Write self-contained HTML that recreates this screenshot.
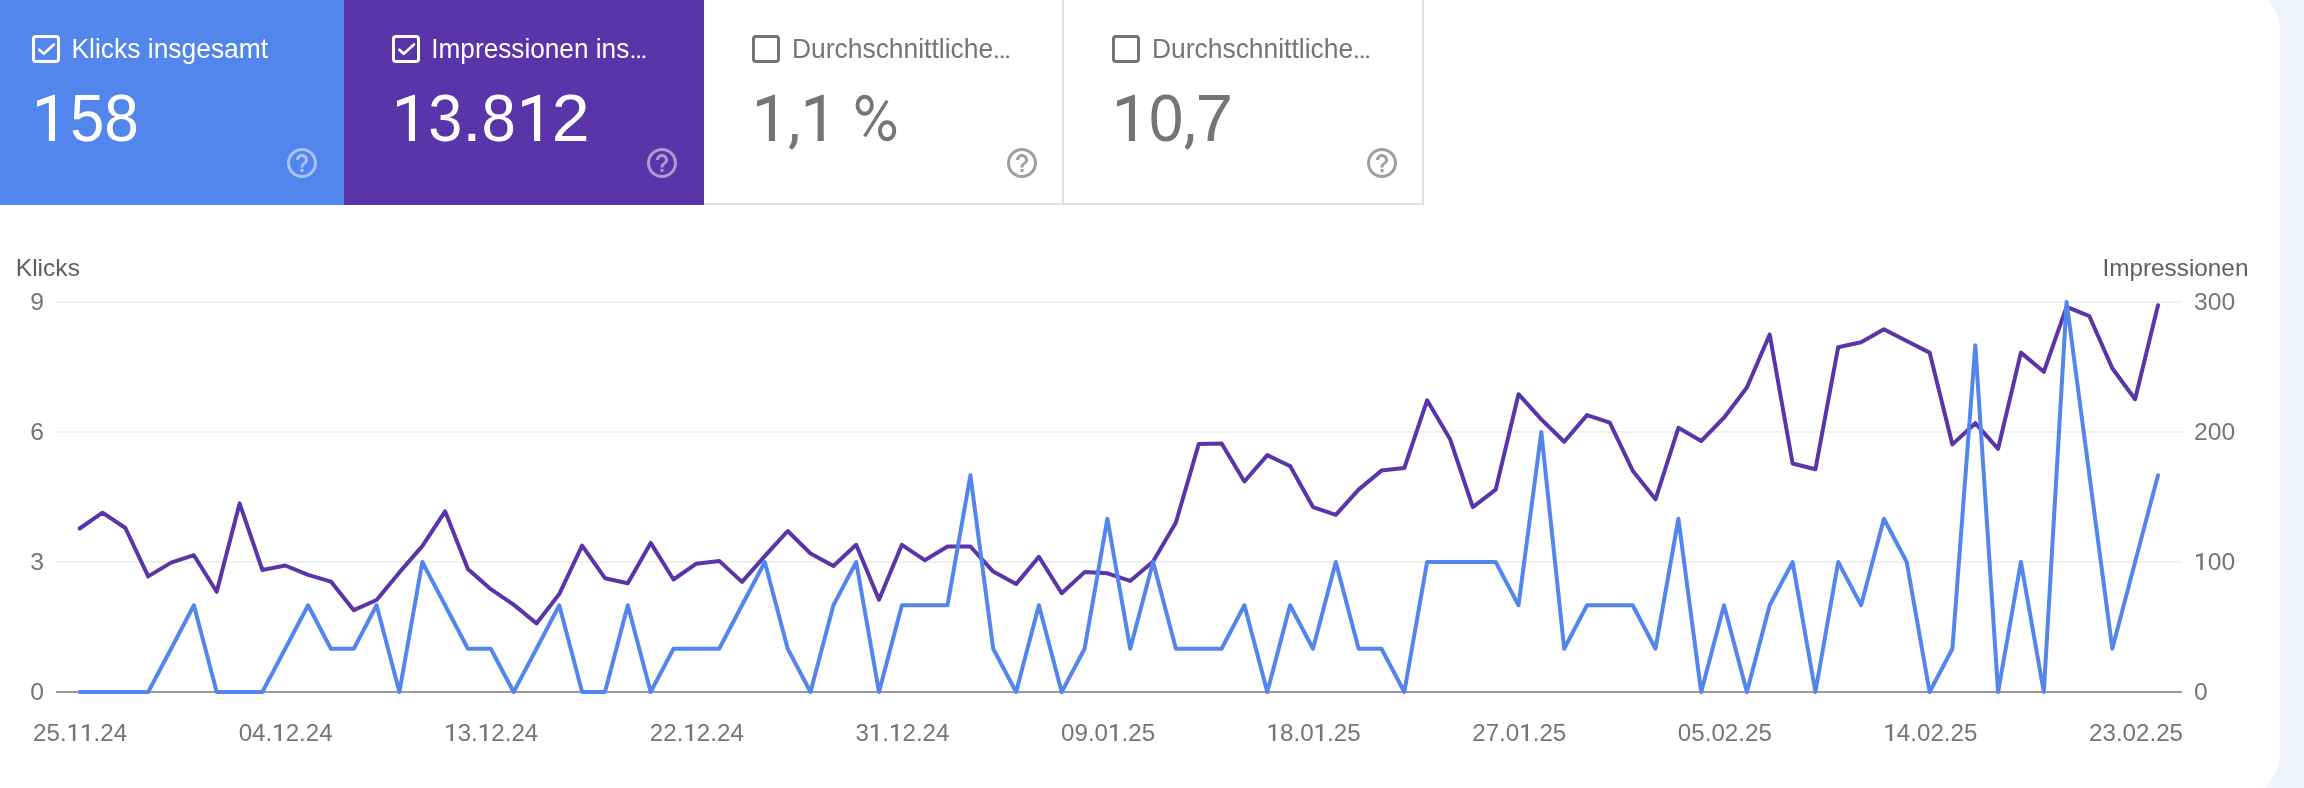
<!DOCTYPE html>
<html><head><meta charset="utf-8"><style>
html,body{margin:0;padding:0;}
body{width:2304px;height:788px;overflow:hidden;background:#f0f4f9;font-family:"Liberation Sans", sans-serif;}
svg{display:block;font-family:"Liberation Sans", sans-serif;will-change:transform;}
</style></head><body>
<svg width="2304" height="788" viewBox="0 0 2304 788">
<rect x="-16" y="-16" width="2296" height="816" rx="48" fill="#ffffff"/>
<rect x="-16" y="-20" width="360" height="225" fill="#5386ec"/>
<rect x="33.5" y="36.5" width="25" height="25" rx="2.5" fill="none" stroke="#ffffff" stroke-width="3"/><path d="M39.3,49.7 L43.769999999999996,53.7 L53.9,44.4" fill="none" stroke="#ffffff" stroke-width="2.7" stroke-linecap="round" stroke-linejoin="round"/>
<path transform="translate(284,145) scale(1.5)" d="M11 18h2v-2h-2v2zm1-16C6.48 2 2 6.48 2 12s4.48 10 10 10 10-4.48 10-10S17.52 2 12 2zm0 18c-4.41 0-8-3.59-8-8s3.59-8 8-8 8 3.59 8 8-3.59 8-8 8zm0-14c-2.21 0-4 1.79-4 4h2c0-1.1.9-2 2-2s2 .9 2 2c0 2-3 1.75-3 5h2c0-2.25 3-2.5 3-5 0-2.21-1.79-4-4-4z" fill="#ffffff" fill-opacity="0.5"/>
<rect x="344" y="-20" width="360" height="225" fill="#5935a9"/>
<rect x="393.5" y="36.5" width="25" height="25" rx="2.5" fill="none" stroke="#ffffff" stroke-width="3"/><path d="M399.3,49.7 L403.77,53.7 L413.9,44.4" fill="none" stroke="#ffffff" stroke-width="2.7" stroke-linecap="round" stroke-linejoin="round"/>
<path transform="translate(644,145) scale(1.5)" d="M11 18h2v-2h-2v2zm1-16C6.48 2 2 6.48 2 12s4.48 10 10 10 10-4.48 10-10S17.52 2 12 2zm0 18c-4.41 0-8-3.59-8-8s3.59-8 8-8 8 3.59 8 8-3.59 8-8 8zm0-14c-2.21 0-4 1.79-4 4h2c0-1.1.9-2 2-2s2 .9 2 2c0 2-3 1.75-3 5h2c0-2.25 3-2.5 3-5 0-2.21-1.79-4-4-4z" fill="#ffffff" fill-opacity="0.5"/>
<rect x="704" y="-20" width="360" height="225" fill="#ffffff"/>
<rect x="704" y="203" width="360" height="2" fill="#e0e0e0"/>
<rect x="1062" y="-20" width="2" height="225" fill="#e0e0e0"/>
<rect x="753.5" y="36.5" width="25" height="25" rx="2.5" fill="none" stroke="#757575" stroke-width="3"/>
<path transform="translate(1004,145) scale(1.5)" d="M11 18h2v-2h-2v2zm1-16C6.48 2 2 6.48 2 12s4.48 10 10 10 10-4.48 10-10S17.52 2 12 2zm0 18c-4.41 0-8-3.59-8-8s3.59-8 8-8 8 3.59 8 8-3.59 8-8 8zm0-14c-2.21 0-4 1.79-4 4h2c0-1.1.9-2 2-2s2 .9 2 2c0 2-3 1.75-3 5h2c0-2.25 3-2.5 3-5 0-2.21-1.79-4-4-4z" fill="#9e9e9e" fill-opacity="1"/>
<rect x="1064" y="-20" width="360" height="225" fill="#ffffff"/>
<rect x="1064" y="203" width="360" height="2" fill="#e0e0e0"/>
<rect x="1422" y="-20" width="2" height="225" fill="#e0e0e0"/>
<rect x="1113.5" y="36.5" width="25" height="25" rx="2.5" fill="none" stroke="#757575" stroke-width="3"/>
<path transform="translate(1364,145) scale(1.5)" d="M11 18h2v-2h-2v2zm1-16C6.48 2 2 6.48 2 12s4.48 10 10 10 10-4.48 10-10S17.52 2 12 2zm0 18c-4.41 0-8-3.59-8-8s3.59-8 8-8 8 3.59 8 8-3.59 8-8 8zm0-14c-2.21 0-4 1.79-4 4h2c0-1.1.9-2 2-2s2 .9 2 2c0 2-3 1.75-3 5h2c0-2.25 3-2.5 3-5 0-2.21-1.79-4-4-4z" fill="#9e9e9e" fill-opacity="1"/>
<text x="71.51" y="58" font-size="27.2" fill="#ffffff" textLength="196.60" lengthAdjust="spacingAndGlyphs">Klicks insgesamt</text>
<text x="431.26" y="58" font-size="27.2" fill="#ffffff" textLength="197.98" lengthAdjust="spacingAndGlyphs">Impressionen ins</text>
<circle cx="633" cy="56.7" r="1.5" fill="#ffffff"/><circle cx="638.6" cy="56.7" r="1.5" fill="#ffffff"/><circle cx="643.9" cy="56.7" r="1.5" fill="#ffffff"/>
<text x="791.91" y="58" font-size="27.2" fill="#757575" textLength="201.27" lengthAdjust="spacingAndGlyphs">Durchschnittliche</text>
<circle cx="996.4" cy="56.7" r="1.5" fill="#757575"/><circle cx="1002.1" cy="56.7" r="1.5" fill="#757575"/><circle cx="1007.6" cy="56.7" r="1.5" fill="#757575"/>
<text x="1151.91" y="58" font-size="27.2" fill="#757575" textLength="201.27" lengthAdjust="spacingAndGlyphs">Durchschnittliche</text>
<circle cx="1356.4" cy="56.7" r="1.5" fill="#757575"/><circle cx="1362.1" cy="56.7" r="1.5" fill="#757575"/><circle cx="1367.6" cy="56.7" r="1.5" fill="#757575"/>
<path d="M55.00,94.80 L55.00,141.10 L48.85,141.10 L48.85,102.45 L36.97,106.70 L36.97,100.80 L53.50,94.80 Z" fill="#ffffff"/><text x="70.16" y="141" font-size="66.8" fill="#ffffff" textLength="34.15" lengthAdjust="spacingAndGlyphs">5</text><text x="104.36" y="141" font-size="66.8" fill="#ffffff" textLength="34.58" lengthAdjust="spacingAndGlyphs">8</text>
<path d="M415.00,94.80 L415.00,141.10 L408.85,141.10 L408.85,102.45 L396.97,106.70 L396.97,100.80 L413.50,94.80 Z" fill="#ffffff"/><text x="428.37" y="141" font-size="66.8" fill="#ffffff" textLength="34.05" lengthAdjust="spacingAndGlyphs">3</text><text x="461.92" y="141" font-size="66.8" fill="#ffffff" textLength="19.67" lengthAdjust="spacingAndGlyphs">.</text><text x="481.38" y="141" font-size="66.8" fill="#ffffff" textLength="34.35" lengthAdjust="spacingAndGlyphs">8</text><path d="M540.15,94.80 L540.15,141.10 L534.00,141.10 L534.00,102.45 L522.12,106.70 L522.12,100.80 L538.65,94.80 Z" fill="#ffffff"/><text x="551.66" y="141" font-size="66.8" fill="#ffffff" textLength="37.88" lengthAdjust="spacingAndGlyphs">2</text>
<path d="M775.00,94.80 L775.00,141.10 L768.85,141.10 L768.85,102.45 L756.97,106.70 L756.97,100.80 L773.50,94.80 Z" fill="#757575"/><path transform="translate(0.00,0)" d="M792.1,134.1 L797.7,134.1 L797.6,139 Q797.2,145.5 791.9,149.8 L789,147.3 Q791.8,143.8 792.1,139 Z" fill="#757575"/><path d="M823.75,94.80 L823.75,141.10 L817.60,141.10 L817.60,102.45 L805.72,106.70 L805.72,100.80 L822.25,94.80 Z" fill="#757575"/>
<g fill="none" stroke="#757575"><ellipse cx="864.7" cy="105.3" rx="7.2" ry="8.5" stroke-width="3.9"/><ellipse cx="887.1" cy="130.8" rx="7.2" ry="8.5" stroke-width="3.9"/><line x1="887.2" y1="100.6" x2="864.6" y2="136.4" stroke-width="3.3"/></g>
<path d="M1135.00,94.80 L1135.00,141.10 L1128.85,141.10 L1128.85,102.45 L1116.97,106.70 L1116.97,100.80 L1133.50,94.80 Z" fill="#757575"/><text x="1148.88" y="141" font-size="66.8" fill="#757575" textLength="34.25" lengthAdjust="spacingAndGlyphs">0</text><path transform="translate(395.60,0)" d="M792.1,134.1 L797.7,134.1 L797.6,139 Q797.2,145.5 791.9,149.8 L789,147.3 Q791.8,143.8 792.1,139 Z" fill="#757575"/><text x="1195.52" y="141" font-size="66.8" fill="#757575" textLength="37.59" lengthAdjust="spacingAndGlyphs">7</text>
<rect x="56" y="301" width="2126" height="2" fill="#efefef"/>
<rect x="56" y="431" width="2126" height="2" fill="#efefef"/>
<rect x="56" y="561" width="2126" height="2" fill="#efefef"/>
<rect x="56" y="691" width="2126" height="2" fill="#9a9a9a"/>
<text x="15.78" y="276" font-size="24.5" fill="#5f5f5f" textLength="64.17" lengthAdjust="spacingAndGlyphs">Klicks</text>
<text x="2102.43" y="276" font-size="24.5" fill="#5f5f5f" textLength="146.01" lengthAdjust="spacingAndGlyphs">Impressionen</text>
<text x="44.1" y="310" font-size="24.7" fill="#757575" text-anchor="end">9</text>
<text x="44.1" y="440" font-size="24.7" fill="#757575" text-anchor="end">6</text>
<text x="44.1" y="570" font-size="24.7" fill="#757575" text-anchor="end">3</text>
<text x="44.1" y="700" font-size="24.7" fill="#757575" text-anchor="end">0</text>
<text x="2194.00" y="310" font-size="24.7" fill="#757575" textLength="41.21" lengthAdjust="spacingAndGlyphs" style="font-kerning:none">300</text>
<text x="2194.00" y="440" font-size="24.7" fill="#757575" textLength="41.21" lengthAdjust="spacingAndGlyphs" style="font-kerning:none">200</text>
<path d="M2202.75,552.90 L2202.75,570.00 L2200.25,570.00 L2200.25,555.70 L2196.00,557.30 L2196.00,555.10 L2202.20,552.90 Z" fill="#757575"/><text x="2207.74" y="570" font-size="24.7" fill="#757575" textLength="27.48" lengthAdjust="spacingAndGlyphs" style="font-kerning:none">00</text>
<text x="2194.00" y="700" font-size="24.7" fill="#757575" textLength="13.74" lengthAdjust="spacingAndGlyphs" style="font-kerning:none">0</text>
<text x="33.06" y="741" font-size="24.7" fill="#757575" textLength="33.58" lengthAdjust="spacingAndGlyphs" style="font-kerning:none">25.</text><path d="M75.40,723.90 L75.40,741.00 L72.90,741.00 L72.90,726.70 L68.65,728.30 L68.65,726.10 L74.85,723.90 Z" fill="#757575"/><path d="M88.83,723.90 L88.83,741.00 L86.33,741.00 L86.33,726.70 L82.08,728.30 L82.08,726.10 L88.28,723.90 Z" fill="#757575"/><text x="93.52" y="741" font-size="24.7" fill="#757575" textLength="33.58" lengthAdjust="spacingAndGlyphs" style="font-kerning:none">.24</text>
<text x="238.66" y="741" font-size="24.7" fill="#757575" textLength="33.58" lengthAdjust="spacingAndGlyphs" style="font-kerning:none">04.</text><path d="M280.99,723.90 L280.99,741.00 L278.49,741.00 L278.49,726.70 L274.24,728.30 L274.24,726.10 L280.44,723.90 Z" fill="#757575"/><text x="285.68" y="741" font-size="24.7" fill="#757575" textLength="47.02" lengthAdjust="spacingAndGlyphs" style="font-kerning:none">2.24</text>
<path d="M453.01,723.90 L453.01,741.00 L450.51,741.00 L450.51,726.70 L446.26,728.30 L446.26,726.10 L452.46,723.90 Z" fill="#757575"/><text x="457.69" y="741" font-size="24.7" fill="#757575" textLength="20.15" lengthAdjust="spacingAndGlyphs" style="font-kerning:none">3.</text><path d="M486.59,723.90 L486.59,741.00 L484.09,741.00 L484.09,726.70 L479.84,728.30 L479.84,726.10 L486.04,723.90 Z" fill="#757575"/><text x="491.27" y="741" font-size="24.7" fill="#757575" textLength="47.02" lengthAdjust="spacingAndGlyphs" style="font-kerning:none">2.24</text>
<text x="649.85" y="741" font-size="24.7" fill="#757575" textLength="33.58" lengthAdjust="spacingAndGlyphs" style="font-kerning:none">22.</text><path d="M692.18,723.90 L692.18,741.00 L689.68,741.00 L689.68,726.70 L685.43,728.30 L685.43,726.10 L691.63,723.90 Z" fill="#757575"/><text x="696.87" y="741" font-size="24.7" fill="#757575" textLength="47.02" lengthAdjust="spacingAndGlyphs" style="font-kerning:none">2.24</text>
<text x="855.45" y="741" font-size="24.7" fill="#757575" textLength="13.44" lengthAdjust="spacingAndGlyphs" style="font-kerning:none">3</text><path d="M877.63,723.90 L877.63,741.00 L875.13,741.00 L875.13,726.70 L870.88,728.30 L870.88,726.10 L877.08,723.90 Z" fill="#757575"/><text x="882.32" y="741" font-size="24.7" fill="#757575" textLength="6.71" lengthAdjust="spacingAndGlyphs" style="font-kerning:none">.</text><path d="M897.78,723.90 L897.78,741.00 L895.28,741.00 L895.28,726.70 L891.03,728.30 L891.03,726.10 L897.23,723.90 Z" fill="#757575"/><text x="902.47" y="741" font-size="24.7" fill="#757575" textLength="47.02" lengthAdjust="spacingAndGlyphs" style="font-kerning:none">2.24</text>
<text x="1061.04" y="741" font-size="24.7" fill="#757575" textLength="47.02" lengthAdjust="spacingAndGlyphs" style="font-kerning:none">09.0</text><path d="M1116.81,723.90 L1116.81,741.00 L1114.31,741.00 L1114.31,726.70 L1110.06,728.30 L1110.06,726.10 L1116.26,723.90 Z" fill="#757575"/><text x="1121.50" y="741" font-size="24.7" fill="#757575" textLength="33.58" lengthAdjust="spacingAndGlyphs" style="font-kerning:none">.25</text>
<path d="M1275.39,723.90 L1275.39,741.00 L1272.89,741.00 L1272.89,726.70 L1268.64,728.30 L1268.64,726.10 L1274.84,723.90 Z" fill="#757575"/><text x="1280.08" y="741" font-size="24.7" fill="#757575" textLength="33.58" lengthAdjust="spacingAndGlyphs" style="font-kerning:none">8.0</text><path d="M1322.41,723.90 L1322.41,741.00 L1319.91,741.00 L1319.91,726.70 L1315.66,728.30 L1315.66,726.10 L1321.86,723.90 Z" fill="#757575"/><text x="1327.09" y="741" font-size="24.7" fill="#757575" textLength="33.58" lengthAdjust="spacingAndGlyphs" style="font-kerning:none">.25</text>
<text x="1472.24" y="741" font-size="24.7" fill="#757575" textLength="47.02" lengthAdjust="spacingAndGlyphs" style="font-kerning:none">27.0</text><path d="M1528.00,723.90 L1528.00,741.00 L1525.50,741.00 L1525.50,726.70 L1521.25,728.30 L1521.25,726.10 L1527.45,723.90 Z" fill="#757575"/><text x="1532.69" y="741" font-size="24.7" fill="#757575" textLength="33.58" lengthAdjust="spacingAndGlyphs" style="font-kerning:none">.25</text>
<text x="1677.83" y="741" font-size="24.7" fill="#757575" textLength="94.03" lengthAdjust="spacingAndGlyphs" style="font-kerning:none">05.02.25</text>
<path d="M1892.18,723.90 L1892.18,741.00 L1889.68,741.00 L1889.68,726.70 L1885.43,728.30 L1885.43,726.10 L1891.63,723.90 Z" fill="#757575"/><text x="1896.86" y="741" font-size="24.7" fill="#757575" textLength="80.60" lengthAdjust="spacingAndGlyphs" style="font-kerning:none">4.02.25</text>
<text x="2089.03" y="741" font-size="24.7" fill="#757575" textLength="94.03" lengthAdjust="spacingAndGlyphs" style="font-kerning:none">23.02.25</text>
<polyline points="79.7,528.5 102.5,512.7 125.4,528.0 148.2,576.4 171.1,562.6 193.9,555.2 216.7,591.8 239.6,503.4 262.4,570.0 285.2,565.5 308.1,574.9 330.9,581.6 353.8,610.2 376.6,600.0 399.4,572.4 422.3,546.1 445.1,511.3 467.9,568.9 490.8,589.2 513.6,604.6 536.5,623.4 559.3,594.0 582.1,545.7 605.0,578.2 627.8,583.3 650.7,542.9 673.5,579.5 696.3,563.7 719.2,560.9 742.0,581.9 764.8,556.1 787.7,531.0 810.5,553.5 833.4,566.0 856.2,544.8 879.0,599.7 901.9,544.8 924.7,560.2 947.5,546.5 970.4,546.5 993.2,571.6 1016.1,584.1 1038.9,556.8 1061.7,593.2 1084.6,572.1 1107.4,573.3 1130.2,580.9 1153.1,561.4 1175.9,522.5 1198.8,443.9 1221.6,443.5 1244.4,481.5 1267.3,455.1 1290.1,466.1 1313.0,507.1 1335.8,514.8 1358.6,489.6 1381.5,470.6 1404.3,468.1 1427.1,400.3 1450.0,438.9 1472.8,507.1 1495.7,489.6 1518.5,394.2 1541.3,419.4 1564.2,441.8 1587.0,415.1 1609.8,422.6 1632.7,470.7 1655.5,499.3 1678.4,427.8 1701.2,441.0 1724.0,417.7 1746.9,387.5 1769.7,334.5 1792.6,463.5 1815.4,469.3 1838.2,347.2 1861.1,342.3 1883.9,329.3 1906.7,341.0 1929.6,352.6 1952.4,444.4 1975.3,423.2 1998.1,448.8 2020.9,352.6 2043.8,371.8 2066.6,306.8 2089.4,316.2 2112.3,368.3 2135.1,399.2 2158.0,305.2" fill="none" stroke="#5935a9" stroke-width="4" stroke-linejoin="round" stroke-linecap="round"/>
<polyline points="79.7,692.0 102.5,692.0 125.4,692.0 148.2,692.0 171.1,648.7 193.9,605.3 216.7,692.0 239.6,692.0 262.4,692.0 285.2,648.7 308.1,605.3 330.9,648.7 353.8,648.7 376.6,605.3 399.4,692.0 422.3,562.0 445.1,605.3 467.9,648.7 490.8,648.7 513.6,692.0 536.5,648.7 559.3,605.3 582.1,692.0 605.0,692.0 627.8,605.3 650.7,692.0 673.5,648.7 696.3,648.7 719.2,648.7 742.0,605.3 764.8,562.0 787.7,648.7 810.5,692.0 833.4,605.3 856.2,562.0 879.0,692.0 901.9,605.3 924.7,605.3 947.5,605.3 970.4,475.3 993.2,648.7 1016.1,692.0 1038.9,605.3 1061.7,692.0 1084.6,648.7 1107.4,518.7 1130.2,648.7 1153.1,562.0 1175.9,648.7 1198.8,648.7 1221.6,648.7 1244.4,605.3 1267.3,692.0 1290.1,605.3 1313.0,648.7 1335.8,562.0 1358.6,648.7 1381.5,648.7 1404.3,692.0 1427.1,562.0 1450.0,562.0 1472.8,562.0 1495.7,562.0 1518.5,605.3 1541.3,432.0 1564.2,648.7 1587.0,605.3 1609.8,605.3 1632.7,605.3 1655.5,648.7 1678.4,518.7 1701.2,692.0 1724.0,605.3 1746.9,692.0 1769.7,605.3 1792.6,562.0 1815.4,692.0 1838.2,562.0 1861.1,605.3 1883.9,518.7 1906.7,562.0 1929.6,692.0 1952.4,648.7 1975.3,345.3 1998.1,692.0 2020.9,562.0 2043.8,692.0 2066.6,302.0 2089.4,475.3 2112.3,648.7 2135.1,562.0 2158.0,475.3" fill="none" stroke="#5386ec" stroke-width="4" stroke-linejoin="round" stroke-linecap="round"/>
</svg>
</body></html>
